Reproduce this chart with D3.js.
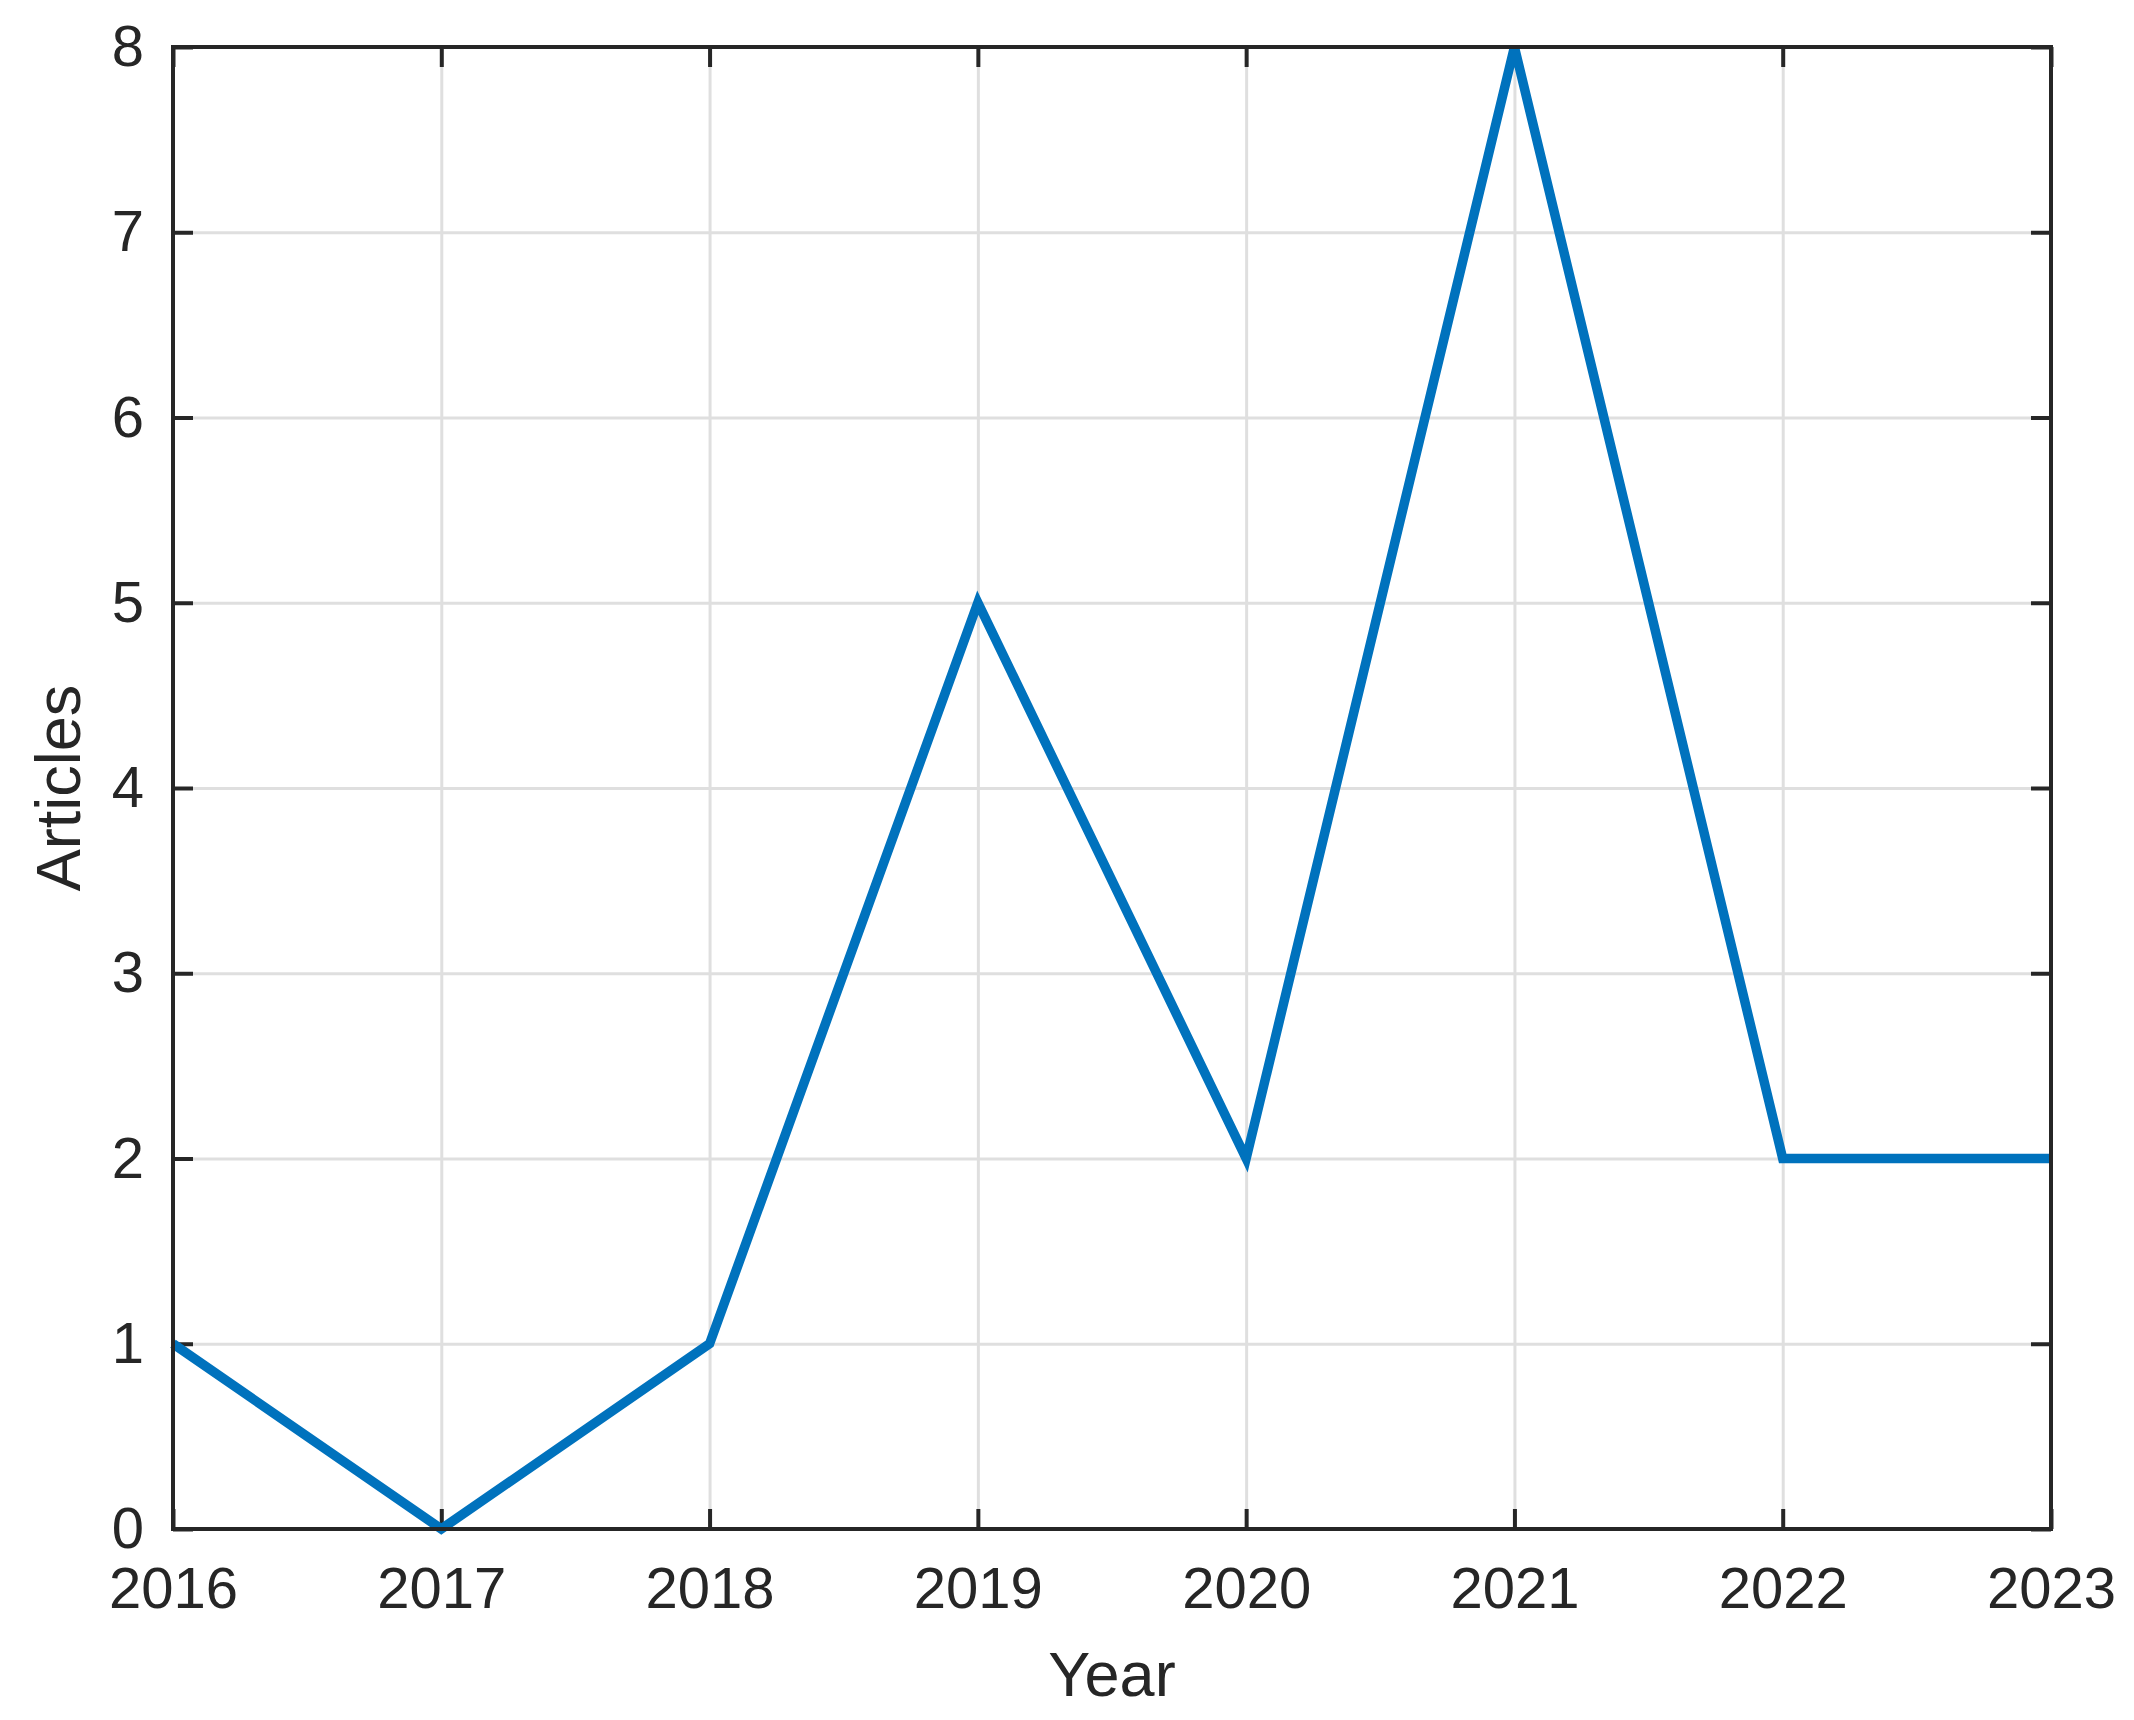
<!DOCTYPE html>
<meta charset="utf-8">
<style>
body { margin: 0; background: #fff; }
svg { font-family: "Liberation Sans", Arial, sans-serif; }
.grid line { stroke: #dfdfdf; stroke-width: 3; }
.grid path { display: none; }
.axis path { display: none; }
.axis line { stroke: #262626; stroke-width: 4; }
.axis text { fill: #262626; font-size: 58px; }
.label { fill: #262626; font-size: 63px; }
</style>
<svg width="2134" height="1720"></svg>
<script src="https://d3js.org/d3.v7.min.js"></script>
<script>

var years = [2016, 2017, 2018, 2019, 2020, 2021, 2022, 2023];
var articles = [1, 0, 1, 5, 2, 8, 2, 2];
var yTicks = [0, 1, 2, 3, 4, 5, 6, 7, 8];

var svg = d3.select("svg"),
    margin = {top: 47, right: 83, bottom: 191, left: 173},
    width = +svg.attr("width") - margin.left - margin.right,
    height = +svg.attr("height") - margin.top - margin.bottom;

var x = d3.scaleLinear().domain([2016, 2023]).range([0, width]),
    y = d3.scaleLinear().domain([0, 8]).range([height, 0]);

var g = svg.append("g")
    .attr("transform", "translate(" + margin.left + "," + margin.top + ")");

// grid
g.append("g")
    .attr("class", "grid")
    .attr("transform", "translate(0," + height + ")")
    .call(d3.axisBottom(x).tickValues(years).tickSize(-height).tickFormat(""));
g.append("g")
    .attr("class", "grid")
    .call(d3.axisLeft(y).tickValues(yTicks).tickSize(-width).tickFormat(""));

// axes, ticks inward
g.append("g")
    .attr("class", "axis")
    .attr("transform", "translate(0," + height + ")")
    .call(d3.axisBottom(x).tickValues(years).tickFormat(d3.format("d")).tickSizeInner(-20).tickSizeOuter(0).tickPadding(38));
g.append("g")
    .attr("class", "axis")
    .call(d3.axisTop(x).tickValues(years).tickFormat("").tickSizeInner(-20).tickSizeOuter(0));
g.append("g")
    .attr("class", "axis")
    .call(d3.axisLeft(y).tickValues(yTicks).tickSizeInner(-20).tickSizeOuter(0).tickPadding(29));
g.append("g")
    .attr("class", "axis")
    .attr("transform", "translate(" + width + ",0)")
    .call(d3.axisRight(y).tickValues(yTicks).tickFormat("").tickSizeInner(-20).tickSizeOuter(0));

var data = years.map(function(d, i) { return {year: d, value: articles[i]}; });

g.append("path")
    .datum(data)
    .attr("fill", "none")
    .attr("stroke", "#0072BD")
    .attr("stroke-width", 9.5)
    .attr("stroke-linejoin", "miter")
    .attr("d", d3.line()
        .x(function(d) { return x(d.year); })
        .y(function(d) { return y(d.value); }));

// box
g.append("rect")
    .attr("width", width)
    .attr("height", height)
    .attr("fill", "none")
    .attr("stroke", "#262626")
    .attr("stroke-width", 4);

svg.append("text")
    .attr("class", "label")
    .attr("text-anchor", "middle")
    .attr("x", margin.left + width / 2)
    .attr("y", 1696)
    .text("Year");

svg.append("text")
    .attr("class", "label")
    .attr("text-anchor", "middle")
    .attr("transform", "translate(80," + (margin.top + height / 2) + ") rotate(-90)")
    .text("Articles");

</script>
